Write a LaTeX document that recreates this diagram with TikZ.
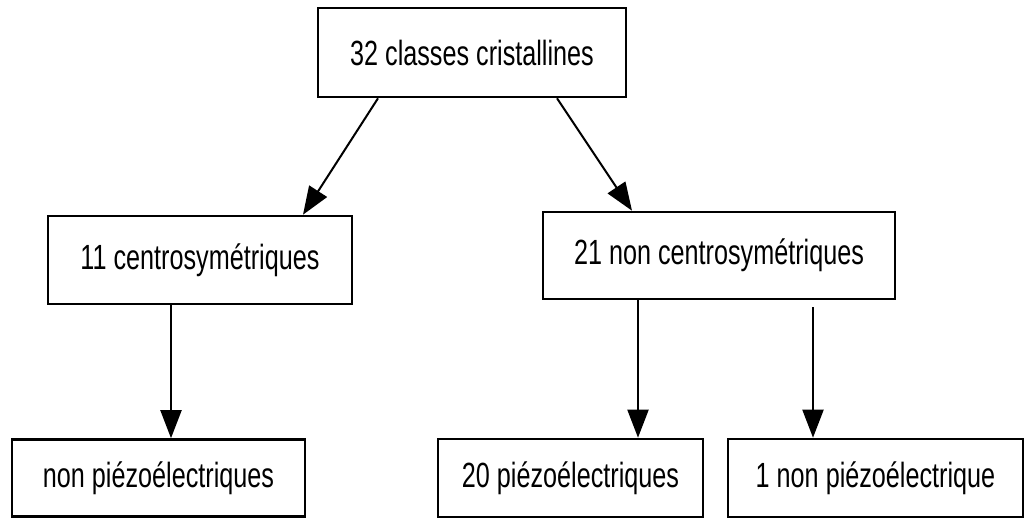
\documentclass[tikz,border=0pt]{standalone}
\usepackage{fontspec}
\setmainfont{Liberation Sans}[FakeStretch=0.72]
\usetikzlibrary{arrows.meta}
\begin{document}
\begin{tikzpicture}[x=1pt,y=-1pt,
  box/.style={draw=black, line width=2.6pt, fill=white, inner sep=0pt,
              font=\fontsize{35}{40}\selectfont, text=black},
  link/.style={draw=black, line width=2pt, -{Triangle[length=28pt,width=21pt]}}]
  % canvas
  \fill[white] (0,0) rectangle (1025,525);
  \useasboundingbox (0,0) rectangle (1025,525);

  % class boxes
  \node[box, minimum width=308pt, minimum height=89pt] (all) at (472,52.5) {32 classes cristallines};
  \node[box, minimum width=304pt, minimum height=88pt] (cs)  at (200,260)  {11 centrosymétriques};
  \node[box, minimum width=352pt, minimum height=87pt] (ncs) at (719,255.5) {21 non centrosymétriques};
  \node[box, minimum width=293pt, minimum height=77pt] (np)  at (158.5,478) {non piézoélectriques};
  \node[box, minimum width=265pt, minimum height=78pt] (pz)  at (570.5,478) {20 piézoélectriques};
  \node[box, minimum width=295pt, minimum height=78pt] (onp) at (875.5,478) {1 non piézoélectrique};

  % connectors
  \draw[link] ([xshift=-94pt]all.south) -- ([xshift=103pt]cs.north);
  \draw[link] ([xshift=85pt]all.south) -- ([xshift=-87pt]ncs.north);
  \draw[link] ([xshift=-29pt]cs.south) -- ([xshift=-29pt]cs.south |- np.north);
  \draw[link] ([xshift=-81pt]ncs.south) -- ([xshift=-81pt]ncs.south |- pz.north);
  \coordinate (onpstart) at ([xshift=94pt,yshift=-7pt]ncs.south);
  \draw[link] (onpstart) -- (onpstart |- onp.north);
\end{tikzpicture}
\end{document}
